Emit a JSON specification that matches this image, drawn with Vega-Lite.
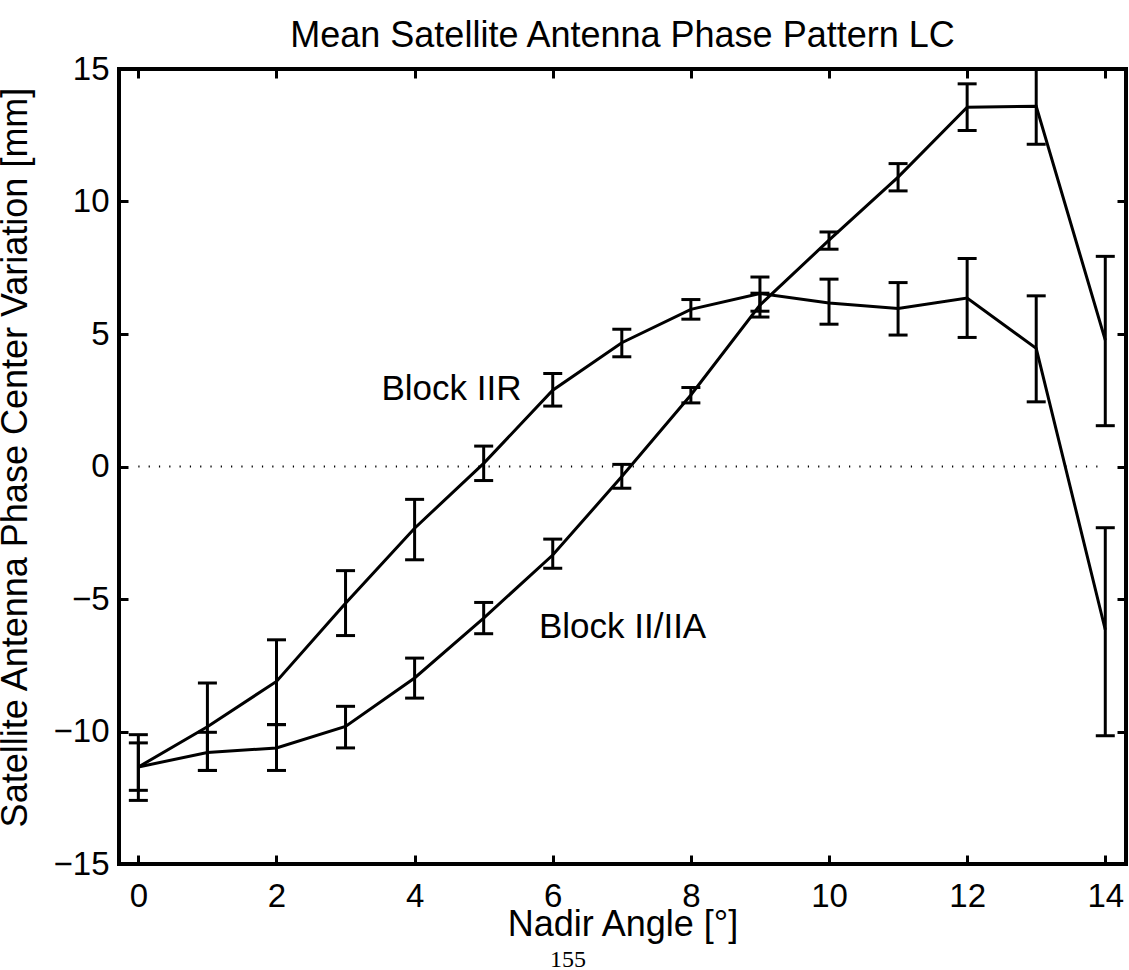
{
  "$schema": "https://vega.github.io/schema/vega-lite/v6.json",
  "autosize": {"type": "none"},
  "padding": {"left": 119, "top": 69, "right": 3, "bottom": 106},
  "width": 1007,
  "height": 795,
  "background": "white",
  "config": {
    "view": {"stroke": "black", "strokeWidth": 4},
    "font": "Liberation Sans"
  },
  "title": {
    "text": "Mean Satellite Antenna Phase Pattern LC",
    "font": "Liberation Sans",
    "fontSize": 36,
    "fontWeight": "normal",
    "color": "black",
    "anchor": "middle",
    "offset": 22,
    "dy": 24
  },
  "datasets": {
    "series": [
      {"series": "Block IIR", "x": 0, "y": -11.34, "lo": -12.22, "hi": -10.12},
      {"series": "Block IIR", "x": 1, "y": -9.82, "lo": -11.47, "hi": -8.17},
      {"series": "Block IIR", "x": 2, "y": -8.11, "lo": -9.74, "hi": -6.54},
      {"series": "Block IIR", "x": 3, "y": -5.16, "lo": -6.38, "hi": -3.93},
      {"series": "Block IIR", "x": 4, "y": -2.33, "lo": -3.52, "hi": -1.24},
      {"series": "Block IIR", "x": 5, "y": 0.12, "lo": -0.53, "hi": 0.77},
      {"series": "Block IIR", "x": 6, "y": 2.88, "lo": 2.28, "hi": 3.51},
      {"series": "Block IIR", "x": 7, "y": 4.67, "lo": 4.14, "hi": 5.18},
      {"series": "Block IIR", "x": 8, "y": 5.93, "lo": 5.56, "hi": 6.30},
      {"series": "Block IIR", "x": 9, "y": 6.53, "lo": 5.86, "hi": 7.15},
      {"series": "Block IIR", "x": 10, "y": 6.17, "lo": 5.37, "hi": 7.07},
      {"series": "Block IIR", "x": 11, "y": 5.96, "lo": 4.96, "hi": 6.94},
      {"series": "Block IIR", "x": 12, "y": 6.36, "lo": 4.87, "hi": 7.85},
      {"series": "Block IIR", "x": 13, "y": 4.46, "lo": 2.44, "hi": 6.44},
      {"series": "Block IIR", "x": 14, "y": -6.16, "lo": -10.16, "hi": -2.31},
      {"series": "Block II/IIA", "x": 0, "y": -11.34, "lo": -12.6, "hi": -10.43},
      {"series": "Block II/IIA", "x": 1, "y": -10.79, "lo": -11.47, "hi": -10.03},
      {"series": "Block II/IIA", "x": 2, "y": -10.62, "lo": -11.47, "hi": -9.74},
      {"series": "Block II/IIA", "x": 3, "y": -9.81, "lo": -10.62, "hi": -9.05},
      {"series": "Block II/IIA", "x": 4, "y": -7.98, "lo": -8.74, "hi": -7.23},
      {"series": "Block II/IIA", "x": 5, "y": -5.72, "lo": -6.31, "hi": -5.13},
      {"series": "Block II/IIA", "x": 6, "y": -3.34, "lo": -3.84, "hi": -2.74},
      {"series": "Block II/IIA", "x": 7, "y": -0.38, "lo": -0.82, "hi": 0.08},
      {"series": "Block II/IIA", "x": 8, "y": 2.70, "lo": 2.40, "hi": 2.98},
      {"series": "Block II/IIA", "x": 9, "y": 6.09, "lo": 5.64, "hi": 6.54},
      {"series": "Block II/IIA", "x": 10, "y": 8.54, "lo": 8.20, "hi": 8.85},
      {"series": "Block II/IIA", "x": 11, "y": 10.92, "lo": 10.40, "hi": 11.43},
      {"series": "Block II/IIA", "x": 12, "y": 13.56, "lo": 12.68, "hi": 14.44},
      {"series": "Block II/IIA", "x": 13, "y": 13.59, "lo": 12.16, "hi": 15.0},
      {"series": "Block II/IIA", "x": 14, "y": 4.77, "lo": 1.54, "hi": 7.93}
    ],
    "zero": [{"x": 0, "x2": 14, "y": 0}],
    "labels": [
      {"x": 3.52, "y": 2.51, "text": "Block IIR"},
      {"x": 5.80, "y": -6.46, "text": "Block II/IIA"}
    ],
    "page": [{"x": 6.22, "y": -18.9, "text": "155"}]
  },
  "resolve": {"axis": {"x": "independent", "y": "independent"}},
  "layer": [
    {
      "data": {"name": "zero"},
      "mark": {"type": "rule", "color": "black", "strokeWidth": 2, "strokeDash": [1.2, 9.1]},
      "encoding": {
        "x": {"field": "x", "type": "quantitative",
              "scale": {"domain": [-0.28, 14.3], "nice": false, "zero": false},
              "axis": {"orient": "top", "values": [0, 2, 4, 6, 8, 10, 12, 14], "labels": false, "domain": false, "grid": false, "title": null, "tickSize": -9, "tickWidth": 3, "tickColor": "black"}},
        "x2": {"field": "x2"},
        "y": {"field": "y", "type": "quantitative",
              "scale": {"domain": [-15, 15], "nice": false, "zero": false},
              "axis": {"orient": "right", "values": [-15, -10, -5, 0, 5, 10, 15], "labels": false, "domain": false, "grid": false, "title": null, "tickSize": -9, "tickWidth": 3, "tickColor": "black"}}
      }
    },
    {
      "data": {"name": "series"},
      "mark": {"type": "line", "color": "black", "strokeWidth": 3},
      "encoding": {
        "x": {"field": "x", "type": "quantitative",
              "axis": {"orient": "bottom", "values": [0, 2, 4, 6, 8, 10, 12, 14], "domain": false, "grid": false,
                       "tickSize": -9, "tickWidth": 3, "tickColor": "black",
                       "labelFont": "Liberation Sans", "labelFontSize": 33, "labelColor": "black", "labelPadding": 25,
                       "labelFlush": false, "labelOverlap": false,
                       "title": "Nadir Angle [°]", "titleFont": "Liberation Sans", "titleFontSize": 36, "titleFontWeight": "normal", "titleColor": "black",
                       "titleBaseline": "alphabetic", "titleY": 71}},
        "y": {"field": "y", "type": "quantitative",
              "axis": {"orient": "left", "values": [-15, -10, -5, 0, 5, 10, 15], "domain": false, "grid": false,
                       "tickSize": -9, "tickWidth": 3, "tickColor": "black",
                       "labelFont": "Liberation Sans", "labelFontSize": 33, "labelColor": "black", "labelPadding": 19,
                       "labelFlush": false, "labelOverlap": false,
                       "title": "Satellite Antenna Phase Center Variation [mm]", "titleFont": "Liberation Sans", "titleFontSize": 36, "titleFontWeight": "normal", "titleColor": "black",
                       "titleBaseline": "alphabetic", "titleAngle": -90, "titleX": -93, "titleY": 388}},
        "detail": {"field": "series", "type": "nominal"}
      }
    },
    {
      "data": {"name": "series"},
      "mark": {"type": "errorbar", "color": "black", "opacity": 1, "ticks": {"size": 19, "thickness": 3, "color": "black", "opacity": 1}, "rule": {"strokeWidth": 3, "color": "black", "opacity": 1}},
      "encoding": {
        "x": {"field": "x", "type": "quantitative", "axis": null},
        "y": {"field": "lo", "type": "quantitative", "axis": null},
        "y2": {"field": "hi"}
      }
    },
    {
      "data": {"name": "labels"},
      "mark": {"type": "text", "align": "left", "baseline": "alphabetic", "font": "Liberation Sans", "fontSize": 35, "color": "black"},
      "encoding": {
        "x": {"field": "x", "type": "quantitative", "axis": null},
        "y": {"field": "y", "type": "quantitative", "axis": null},
        "text": {"field": "text"}
      }
    },
    {
      "data": {"name": "page"},
      "mark": {"type": "text", "align": "center", "baseline": "alphabetic", "font": "Liberation Serif", "fontSize": 24, "color": "black"},
      "encoding": {
        "x": {"field": "x", "type": "quantitative", "axis": null},
        "y": {"field": "y", "type": "quantitative", "axis": null},
        "text": {"field": "text"}
      }
    }
  ]
}
